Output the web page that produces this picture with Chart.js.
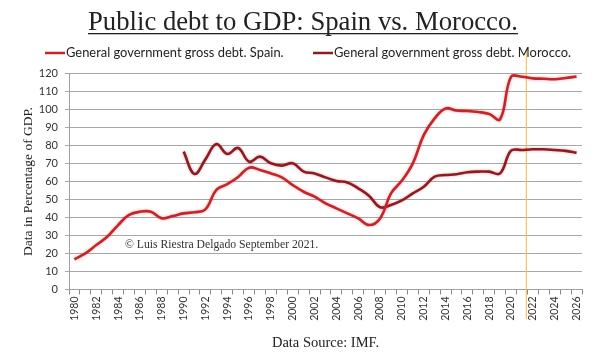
<!DOCTYPE html>
<html>
<head>
<meta charset="utf-8">
<script src="https://cdn.jsdelivr.net/npm/chart.js@4"></script>
<style>
  html, body { margin: 0; padding: 0; background: #fff; }
  #wrap { width: 606px; height: 356px; position: relative; }
</style>
</head>
<body>
<div id="wrap"><canvas id="c" width="606" height="356"></canvas></div>
<script>
const years = ['1980','1981','1982','1983','1984','1985','1986','1987','1988','1989',
  '1990','1991','1992','1993','1994','1995','1996','1997','1998','1999',
  '2000','2001','2002','2003','2004','2005','2006','2007','2008','2009',
  '2010','2011','2012','2013','2014','2015','2016','2017','2018','2019',
  '2020','2021','2022','2023','2024','2025','2026'];

const spain = [16.8, 20.1, 24.7, 29.3, 35.8, 41.4, 43.2, 43.2, 39.5, 40.8,
  42.3, 42.9, 44.5, 55.3, 58.5, 62.5, 67.7, 66.4, 64.5, 62.3,
  58.0, 54.3, 51.6, 47.9, 45.1, 42.3, 39.5, 35.8, 39.5, 53.4,
  60.5, 70.1, 85.8, 95.1, 100.6, 99.4, 99.2, 98.6, 97.5, 94.6,
  118.2, 118.2, 117.3, 117.1, 116.8, 117.5, 118.3];

const morocco = [null, null, null, null, null, null, null, null, null, null,
  76.6, 64.2, 72.3, 80.8, 75.3, 78.6, 71.0, 73.8, 70.1, 68.8,
  70.1, 65.5, 64.5, 62.3, 60.3, 59.5, 56.2, 52.0, 45.7, 47.0,
  49.5, 53.4, 57.1, 62.7, 63.6, 64.0, 65.1, 65.5, 65.5, 64.5,
  77.1, 77.5, 77.9, 77.9, 77.5, 77.0, 76.0];

const seriesNames = ['General government gross debt. Spain.', 'General government gross debt. Morocco.'];
const yTicks = [0, 10, 20, 30, 40, 50, 60, 70, 80, 90, 100, 110, 120];
const titleText = 'Public debt to GDP: Spain vs. Morocco.';
const yTitle = 'Data in Percentage of GDP.';
const xTitle = 'Data Source: IMF.';
const credit = '\u00A9 Luis Riestra Delgado September 2021.';
const markerYear = 41.4; // between 2021 and 2022

const spainColor = '#c4252b';
const moroccoColor = '#8f1b22';

const extras = {
  id: 'extras',
  beforeDatasetsDraw(chart) {
    const {ctx, scales: {x}} = chart;
    const px = x.getPixelForValue(markerYear);
    ctx.save();
    ctx.strokeStyle = 'rgba(238,190,90,0.9)';
    ctx.lineWidth = 1.2;
    ctx.beginPath();
    ctx.moveTo(px, 50);
    ctx.lineTo(px, 319);
    ctx.stroke();
    ctx.restore();
  },
  beforeDatasetDraw(chart, args) {
    const ctx = chart.ctx;
    ctx.save();
    ctx.shadowColor = args.index === 0 ? 'rgba(220,60,60,0.45)' : 'rgba(160,40,40,0.4)';
    ctx.shadowBlur = 3;
  },
  afterDatasetDraw(chart) {
    chart.ctx.restore();
  },
  afterDraw(chart) {
    const {ctx} = chart;
    ctx.save();
    // title + underline
    ctx.font = '26.7px "Liberation Serif", serif';
    ctx.textAlign = 'center';
    ctx.textBaseline = 'alphabetic';
    ctx.fillStyle = '#222';
    const cx = 303;
    ctx.fillText(titleText, cx, 30);
    const tw = ctx.measureText(titleText).width;
    ctx.fillRect(cx - tw / 2, 33, tw, 1.3);

    // legend
    ctx.font = '12.9px Lato, "Liberation Sans", sans-serif';
    ctx.textBaseline = 'middle';
    ctx.textAlign = 'left';
    const items = [
      {x: 45, color: spainColor, text: seriesNames[0]},
      {x: 313, color: moroccoColor, text: seriesNames[1]}
    ];
    items.forEach(it => {
      ctx.strokeStyle = it.color;
      ctx.lineWidth = 2.5;
      ctx.beginPath();
      ctx.moveTo(it.x, 53);
      ctx.lineTo(it.x + 20, 53);
      ctx.stroke();
      ctx.fillStyle = '#222';
      ctx.fillText(it.text, it.x + 21, 53);
    });

    // credit
    ctx.font = '11.7px "Liberation Serif", serif';
    ctx.fillStyle = '#333';
    ctx.fillText(credit, 125, 245);
    ctx.restore();
  }
};

new Chart(document.getElementById('c'), {
  type: 'line',
  data: {
    labels: years,
    datasets: [
      { label: seriesNames[0], data: spain, borderColor: spainColor, backgroundColor: spainColor,
        borderWidth: 2.6, pointRadius: 0, tension: 0.4, fill: false },
      { label: seriesNames[1], data: morocco, borderColor: moroccoColor, backgroundColor: moroccoColor,
        borderWidth: 2.6, pointRadius: 0, tension: 0.4, fill: false }
    ]
  },
  options: {
    responsive: false,
    animation: false,
    devicePixelRatio: 1,
    layout: { padding: { top: 73.5, right: 24, left: 0, bottom: 0 } },
    plugins: {
      legend: { display: false },
      tooltip: { enabled: false },
      title: { display: false }
    },
    scales: {
      x: {
        type: 'category',
        offset: true,
        afterFit(scale) { scale.height = 66.5; },
        border: { display: true, color: '#a0a0a0', width: 1 },
        grid: { display: true, drawOnChartArea: false, drawTicks: true, tickLength: 5, offset: true, color: '#8a8a8a' },
        ticks: {
          autoSkip: false, minRotation: 90, maxRotation: 90, padding: 2,
          color: '#333',
          font: { family: 'Lato, "Liberation Sans", sans-serif', size: 10.5 },
          callback(value, index) { return index % 2 === 0 ? years[index] : ''; }
        },
        title: {
          display: true, text: xTitle, color: '#222',
          font: { family: '"Liberation Serif", serif', size: 14.5, lineHeight: 1.2 },
          padding: { top: 0, bottom: 4.5 }
        }
      },
      y: {
        min: 0, max: 120,
        afterFit(scale) { scale.width = 69; },
        afterBuildTicks(scale) { scale.ticks = yTicks.map(v => ({ value: v })); },
        border: { display: true, color: '#a0a0a0', width: 1 },
        grid: { color: '#a8a8a8', lineWidth: 1, drawTicks: true, tickLength: 4 },
        ticks: {
          color: '#333', padding: 7,
          font: { family: 'Lato, "Liberation Sans", sans-serif', size: 11 }
        },
        title: {
          display: true, text: yTitle, color: '#222',
          font: { family: '"Liberation Serif", serif', size: 13.5, lineHeight: 1.2 },
          padding: { top: 20, bottom: 0 }
        }
      }
    }
  },
  plugins: [extras]
});
</script>
</body>
</html>
